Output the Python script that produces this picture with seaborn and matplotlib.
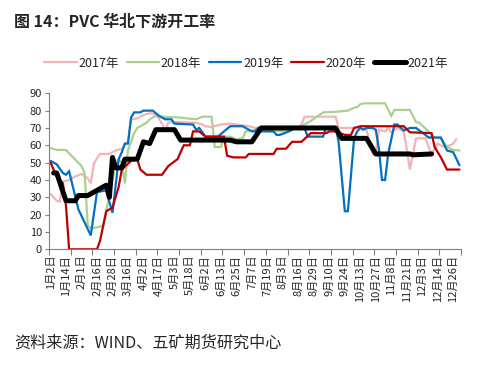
import matplotlib
matplotlib.use("Agg")
import matplotlib.pyplot as plt
import seaborn as sns
import pandas as pd
from matplotlib.lines import Line2D

# ---------------- data ----------------
tick_labels = ["1月2日", "1月14日", "2月1日", "2月16日", "2月28日", "3月16日", "4月2日",
               "4月17日", "5月3日", "5月18日", "6月2日", "6月13日", "6月25日", "7月7日",
               "7月19日", "8月3日", "8月16日", "8月29日", "9月10日", "9月24日", "10月13日",
               "10月27日", "11月8日", "11月21日", "12月3日", "12月14日", "12月26日"]
n_categories = 133

years = ["2017年", "2018年", "2019年", "2020年", "2021年"]

idx_2017 = [0, 2, 3, 4, 6, 8, 10, 12, 13, 14, 15, 16, 19, 21, 23, 25, 26, 28, 30, 32, 34, 36, 37, 38,
            40, 47, 49, 50, 52, 55, 58, 64, 66, 70, 75, 80, 81, 82, 92, 93, 100, 102, 103, 104, 105,
            106, 108, 109, 110, 112, 114, 115, 116, 118, 121, 123, 125, 127, 129, 130, 131]
val_2017 = [32, 28, 27.5, 39, 40, 42, 43.5, 41, 38, 49.5, 52.5, 55, 55, 57, 58, 62, 75, 75.5, 77.5, 78.5,
            78, 72.5, 68, 73, 73.5, 73, 72, 71, 70.5, 72, 72.5, 71, 70, 69.5, 69, 70, 72, 76.5, 76.5,
            70, 70, 69, 62, 55, 55, 69, 68, 70, 67.5, 70, 68, 58, 46, 64, 64, 55, 61, 59, 60, 61, 63.5]

idx_2018 = [0, 2, 5, 7, 10, 11, 12, 13, 16, 17, 19, 21, 22, 23, 24, 25, 27, 28, 30, 31, 32, 34, 36, 42,
            44, 47, 49, 52, 53, 55, 56, 58, 60, 62, 63, 66, 71, 75, 80, 82, 84, 86, 88, 92, 96, 98, 99,
            100, 101, 108, 110, 111, 116, 118, 119, 122, 124, 126, 128, 130, 132]
val_2018 = [58.5, 57.3, 57.3, 53.5, 48, 44, 14, 12, 13, 14, 31, 49, 52, 50, 38, 57, 67, 70, 72, 73, 75,
            77, 76.5, 76, 75.5, 75, 76.5, 76.5, 59, 59, 65, 65, 63.6, 64, 68, 68.8, 68.8, 68, 70, 72, 74,
            76.5, 79, 79.3, 80, 81.7, 82, 83.7, 84.2, 84.2, 77, 80.4, 80.4, 73.3, 73, 68, 64.4, 64, 59,
            57.3, 57]

idx_2019 = [0, 2, 4, 5, 6, 9, 13, 15, 18, 20, 22, 23, 24, 25, 26, 27, 29, 30, 33, 35, 37, 39, 40, 46,
            47, 48, 50, 54, 56, 58, 62, 65, 66, 67, 68, 72, 73, 74, 77, 79, 82, 83, 88, 89, 92, 93, 95,
            96, 98, 99, 100, 101, 102, 104, 105, 106, 107, 108, 109, 111, 112, 114, 116, 118, 121, 122,
            126, 128, 130, 132]
val_2019 = [51, 49, 44, 43, 45, 23, 8, 33, 34, 21, 52, 56, 61, 61, 76, 79, 79, 80, 80, 77, 75, 75, 72.5,
            72, 69, 70, 65, 65, 68, 71, 71, 68, 68, 70, 68, 68, 66, 66, 68, 70, 70, 65, 65, 70.5, 70.5,
            62, 22, 22, 64, 68, 70, 69, 70, 70, 69, 58, 40, 40, 55, 72, 72, 68.5, 70, 70, 66, 64.5,
            64.5, 57, 56, 48.5]

idx_2020 = [0, 2, 4, 5, 6, 15, 16, 18, 20, 22, 23, 26, 28, 29, 31, 36, 38, 41, 43, 45, 46, 48, 50, 56,
            57, 59, 63, 64, 72, 73, 76, 78, 81, 84, 89, 90, 92, 95, 97, 98, 100, 114, 116, 123, 124,
            126, 128, 132]
val_2020 = [50, 42, 38, 25, 0, 0, 5, 22, 24, 36, 46, 51, 52, 46, 43, 43, 48, 52, 60, 60, 68, 68, 65,
            65, 54, 53, 53, 55, 55, 58, 58, 62, 62, 67, 67, 68, 68, 66, 66, 70, 71, 71, 67.5, 67, 59,
            53, 46, 46]

idx_2021 = [1, 2, 5, 8, 9, 12, 15, 18, 19, 20, 21, 23, 24, 28, 30, 32, 34, 40, 42, 58, 60, 65, 68, 92,
            94, 102, 105, 116, 117, 123]
val_2021 = [44, 44, 28, 28, 31, 31, 34, 37, 30, 53, 47, 47, 52, 52, 62, 61, 69, 69, 63, 63, 62, 62, 70,
            70, 64, 64, 55, 55, 54.5, 55]

# ---------------- style ----------------
sns.set_theme(style="white")
plt.rcParams['font.family'] = ['Noto Sans CJK SC', 'DejaVu Sans']
plt.rcParams['axes.unicode_minus'] = False

colors = {"2017年": "#F4B3B8", "2018年": "#A9D18E", "2019年": "#0070C0",
          "2020年": "#C00000", "2021年": "#000000"}
widths = {"2017年": 1.6, "2018年": 1.6, "2019年": 1.6, "2020年": 1.6, "2021年": 3.6}

series = {"2017年": (idx_2017, val_2017), "2018年": (idx_2018, val_2018),
          "2019年": (idx_2019, val_2019), "2020年": (idx_2020, val_2020),
          "2021年": (idx_2021, val_2021)}

frames = []
for y in years:
    ix, vv = series[y]
    frames.append(pd.DataFrame({"idx": ix, "value": vv, "year": y}))
df = pd.concat(frames, ignore_index=True)

fig = plt.figure(figsize=(4.83, 3.69), dpi=100)
ax = fig.add_axes([0.1014, 0.3244, 0.853, 0.4228])

for y in years:
    sub = df[df["year"] == y]
    sns.lineplot(data=sub, x="idx", y="value", ax=ax, color=colors[y],
                 linewidth=widths[y], estimator=None, sort=False, legend=False,
                 solid_joinstyle="miter" if y != "2021年" else "round")

ax.set_xlim(-0.5, n_categories - 0.5)
ax.set_ylim(0, 90)
ax.set_yticks(range(0, 91, 10))
ax.tick_params(axis="y", labelsize=8, length=3, width=0.8, color="#808080", pad=2,
               direction="out", left=True)

# major ticks (marks only) every 7 categories, labels every 5 categories
ax.set_xticks([k - 0.5 for k in range(0, n_categories + 1, 7)])
ax.set_xticklabels([])
ax.tick_params(axis="x", which="major", length=4, width=0.8, color="#808080",
               direction="out", bottom=True)
ax.set_xticks(list(range(0, 5 * len(tick_labels), 5)), minor=True)
ax.set_xticklabels(tick_labels, minor=True, rotation=90, fontsize=8)
ax.tick_params(axis="x", which="minor", length=0, pad=4)

ax.set_xlabel("")
ax.set_ylabel("")
for s in ["top", "right"]:
    ax.spines[s].set_visible(False)
for s in ["left", "bottom"]:
    ax.spines[s].set_color("#808080")
    ax.spines[s].set_linewidth(0.8)

handles = [Line2D([0], [0], color=colors[y], linewidth=widths[y]) for y in years]
fig.legend(handles, years, loc="center", bbox_to_anchor=(0.51, 0.829), ncol=5,
           frameon=False, fontsize=9, handlelength=2.6, handletextpad=0.15,
           columnspacing=0.6)

fig.text(0.029, 0.94, "图 14：PVC 华北下游开工率", fontsize=11.5, fontweight="bold",
         ha="left", va="center")
fig.text(0.029, 0.07, "资料来源：WIND、五矿期货研究中心", fontsize=11.6, ha="left", va="center")

fig.savefig("out.png", dpi=100)
